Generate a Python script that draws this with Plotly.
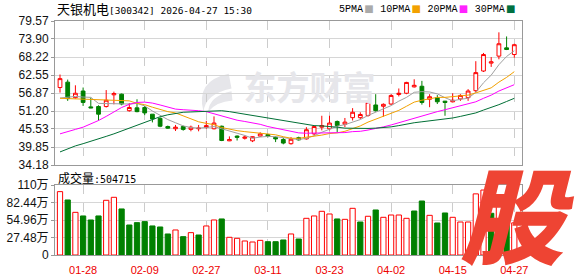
import plotly.graph_objects as go

# ---------------- data ----------------
dates = ["01-23","01-26","01-27","01-28","01-29","01-30","02-02","02-03","02-04","02-05",
         "02-06","02-09","02-10","02-11","02-12","02-13","02-24","02-25","02-26","02-27",
         "03-02","03-03","03-04","03-05","03-06","03-09","03-10","03-11","03-12","03-13",
         "03-16","03-17","03-18","03-19","03-20","03-23","03-24","03-25","03-26","03-27",
         "03-30","03-31","04-01","04-02","04-03","04-07","04-08","04-09","04-10","04-13",
         "04-14","04-15","04-16","04-17","04-20","04-21","04-22","04-23","04-24","04-27"]

opens = [58.6,60.3,55.4,57.5,52.5,52.6,52.6,56.3,56.5,51.3,
         52.2,52.3,50.2,48.9,46.3,45.6,46.3,45.4,45.6,46.0,
         45.6,46.4,41.8,43.3,42.6,41.8,43.3,43.8,42.9,42.2,
         40.9,42.8,42.4,44.0,46.1,45.6,47.9,47.0,49.1,49.1,
         49.8,53.1,52.7,53.4,56.4,56.8,58.8,59.0,54.9,55.4,
         54.3,54.1,55.0,55.4,57.6,63.8,66.3,68.5,71.1,69.0]
highs = [62.7,61.1,59.3,58.6,55.4,53.0,57.8,57.3,56.7,53.7,
         54.9,52.8,50.2,49.2,46.6,46.8,46.6,46.6,46.8,48.1,
         49.5,46.6,43.2,43.5,43.5,43.2,44.5,44.0,43.2,42.7,
         43.0,43.1,46.1,46.6,49.7,49.7,48.2,49.0,52.1,50.8,
         54.6,56.5,53.6,56.5,58.3,60.4,61.2,60.7,56.5,56.2,
         54.4,56.8,56.5,58.1,66.9,69.5,68.2,76.0,74.7,72.4]
lows = [57.0,54.4,55.1,52.8,52.1,48.2,52.3,53.3,53.0,51.0,
        50.8,49.9,47.6,46.1,45.6,44.9,45.0,44.8,44.8,45.6,
        45.4,41.7,41.7,41.9,42.2,41.4,43.1,42.9,41.4,40.7,
        40.6,41.9,42.2,43.5,45.1,45.1,44.5,46.1,48.2,48.7,
        49.4,51.0,49.4,53.1,55.8,56.5,58.6,53.2,52.4,53.4,
        49.7,53.9,54.4,54.4,57.2,63.5,65.1,67.5,70.4,68.0]
closes = [61.4,55.1,56.8,53.9,52.2,50.2,54.6,56.7,53.4,52.3,
          51.0,50.6,48.7,46.4,45.8,46.1,45.4,46.1,45.8,46.6,
          47.4,41.9,42.2,42.9,43.0,43.1,44.0,43.2,42.4,41.1,
          42.3,42.1,45.3,46.3,46.6,47.4,46.6,47.7,50.8,50.1,
          53.9,51.3,53.3,56.1,56.8,60.2,59.3,53.9,55.7,54.1,
          53.9,54.6,56.1,57.5,63.3,69.0,66.7,72.4,70.6,72.1]

volumes = [995000,864000,670000,613000,550000,613000,859000,906000,723000,471000,
           508000,524000,456000,440000,330000,393000,288000,351000,314000,456000,
           550000,566000,278000,262000,220000,204000,230000,209000,209000,236000,
           330000,251000,576000,613000,686000,644000,566000,560000,733000,518000,
           608000,707000,592000,628000,628000,576000,691000,848000,623000,503000,
           660000,592000,518000,518000,960000,1020000,655000,920000,613000,504715]

ma5 = [55.3,55.5,55.8,55.6,55.5,53.6,53.5,53.5,53.4,53.4,
       53.6,52.8,51.2,49.8,48.5,47.5,46.5,46.0,45.8,46.0,
       46.3,45.6,44.8,44.2,43.5,42.6,43.0,43.2,43.1,42.8,
       42.6,42.2,42.6,43.4,44.5,45.5,46.4,46.9,47.8,48.5,
       49.8,50.8,51.9,52.9,54.3,55.5,57.1,57.3,57.2,56.6,
       55.4,54.4,54.9,55.2,57.1,60.1,62.5,65.8,68.4,70.2]
ma10 = [55.2,55.1,55.0,54.9,54.8,54.7,54.6,54.5,54.4,54.4,
        53.6,53.2,52.4,51.6,51.0,50.6,49.6,48.6,47.8,47.3,
        46.9,46.0,45.4,45.0,44.7,44.4,44.3,44.0,43.7,43.1,
        42.6,42.6,42.9,43.3,43.6,44.1,44.3,44.8,45.6,46.5,
        47.7,48.6,49.4,50.4,51.4,52.7,54.0,54.6,55.1,55.5,
        55.5,55.8,56.1,56.2,56.9,57.7,58.5,60.3,61.8,63.6]
ma20 = [44.0,44.6,45.4,46.1,47.1,48.2,49.5,50.8,52.3,53.3,
        53.9,54.0,53.7,53.1,52.4,51.8,51.6,51.5,51.3,51.0,
        50.3,49.6,48.9,48.3,47.9,47.5,47.0,46.3,45.8,45.2,
        44.8,44.3,44.2,44.2,44.2,44.3,44.3,44.4,44.7,44.8,
        45.2,45.6,46.2,46.8,47.5,48.4,49.1,49.7,50.3,51.0,
        51.6,52.2,52.7,53.3,54.1,55.2,56.2,57.5,58.4,59.5]
ma30 = [38.3,39.3,40.2,40.9,41.6,42.4,43.2,44.0,44.9,45.8,
        46.7,47.6,48.6,49.4,50.0,50.5,50.8,50.9,51.0,51.2,
        51.3,51.3,51.0,50.6,50.2,49.9,49.5,49.1,48.7,48.3,
        47.7,47.3,46.9,46.6,46.5,46.4,46.1,45.8,45.7,45.6,
        45.7,45.8,45.9,46.2,46.6,47.1,47.5,47.8,48.1,48.4,
        48.6,49.0,49.5,50.0,50.6,51.5,52.3,53.2,54.2,55.2]

tick_dates = ["01-28","02-09","02-27","03-11","03-23","04-02","04-15","04-27"]
price_ticks = ["34.18","39.85","45.53","51.20","56.87","62.55","68.22","73.90","79.57"]
vol_tick_vals = [0, 274800, 549600, 824400, 1099200]
vol_tick_text = ["0", "27.48万", "54.96万", "82.44万", "110万"]

stock_title = "天银机电"
stock_code = "[300342] 2026-04-27 15:30"
ma_names = ["5PMA", "10PMA", "20PMA", "30PMA"]

# ---------------- styles ----------------
RED = "#ff0000"
GREEN = "#008000"
ma_colors = ["#a0a0a0", "#f2a100", "#ff00ff", "#006f35"]
legend_colors = ["#aaaaaa", "#f2a100", "#ff22ff", "#007040"]

idx = list(range(len(dates)))
tick_idx = [dates.index(d) for d in tick_dates]

up = [True] + [closes[i] >= closes[i - 1] for i in range(1, len(closes))]
vol_fill = ["#ffffff" if u else GREEN for u in up]
vol_line = [RED if u else GREEN for u in up]

W, H = 578, 276
L, R, T, B = 55, 56, 21, 21
ph = H - T - B
price_dom = [1 - 144 / ph, 1]
vol_dom = [0, 1 - 164 / ph]

fig = go.Figure()

# watermark (behind everything)
fig.add_trace(go.Scatter(
    x=[32.4], y=[57.3], mode="text", text=["东方财富"],
    textfont=dict(family="Noto Sans CJK SC", size=33, color="#e6e6ea", weight="bold"),
    hoverinfo="skip", xaxis="x", yaxis="y"))

fig.add_trace(go.Candlestick(
    x=idx, open=opens, high=highs, low=lows, close=closes,
    increasing=dict(line=dict(color=RED, width=1), fillcolor="#ffffff"),
    decreasing=dict(line=dict(color=GREEN, width=1), fillcolor=GREEN),
    whiskerwidth=0, hoverinfo="skip", xaxis="x", yaxis="y"))

for name, vals, col in zip(ma_names, [ma5, ma10, ma20, ma30], ma_colors):
    fig.add_trace(go.Scatter(x=idx, y=vals, mode="lines", name=name,
                             line=dict(color=col, width=1), hoverinfo="skip",
                             xaxis="x", yaxis="y"))

fig.add_trace(go.Bar(
    x=idx, y=volumes, width=0.68,
    marker=dict(color=vol_fill, line=dict(color=vol_line, width=1)),
    hoverinfo="skip", xaxis="x2", yaxis="y2"))

axis_common = dict(showline=True, linecolor="#999999", linewidth=1, mirror=True,
                   zeroline=False, automargin=False)

fig.update_layout(
    width=W, height=H, margin=dict(l=L, r=R, t=T, b=B, autoexpand=False),
    paper_bgcolor="#ffffff", plot_bgcolor="#ffffff",
    showlegend=False, bargap=0.3,
    xaxis=dict(domain=[0, 1], range=[-0.65, 60.0], anchor="y",
               tickvals=tick_idx, showticklabels=False, ticks="",
               showgrid=True, gridcolor="#cccccc", griddash="dash", gridwidth=1,
               rangeslider=dict(visible=False), **axis_common),
    yaxis=dict(domain=price_dom, range=[34.18, 79.57], anchor="x",
               tickvals=[float(t) for t in price_ticks], ticktext=price_ticks,
               ticks="outside", ticklen=3, tickcolor="#999999",
               tickfont=dict(family="Liberation Sans", size=12, color="#111111"),
               showgrid=True, gridcolor="#d6d6d6", gridwidth=1, **axis_common),
    xaxis2=dict(domain=[0, 1], range=[-0.65, 60.0], anchor="y2", matches="x",
                tickvals=tick_idx, ticktext=tick_dates,
                ticks="outside", ticklen=5, tickcolor="rgba(0,0,0,0)",
                tickfont=dict(family="Liberation Sans", size=11, color="#ee0000"),
                showgrid=True, gridcolor="#cccccc", griddash="dash", gridwidth=1,
                **axis_common),
    yaxis2=dict(domain=vol_dom, range=[0, 1099200], anchor="x2",
                tickvals=vol_tick_vals, ticktext=vol_tick_text,
                ticks="outside", ticklen=3, tickcolor="#999999",
                tickfont=dict(family="Liberation Sans, Noto Sans CJK SC", size=12, color="#111111"),
                showgrid=True, gridcolor="#d6d6d6", gridwidth=1, **axis_common),
)

# leaf of the watermark logo (decoration)
fig.add_shape(type="path", xref="paper", yref="paper", layer="below",
              path="M 0.372,0.775 Q 0.300,0.745 0.318,0.612 Q 0.322,0.690 0.378,0.712 Z",
              fillcolor="#e6e6ea", line=dict(width=0))
fig.add_shape(type="path", xref="paper", yref="paper", layer="below",
              path="M 0.378,0.700 Q 0.330,0.680 0.328,0.612 Q 0.345,0.655 0.380,0.660 Z",
              fillcolor="#e6e6ea", line=dict(width=0))

def px_x(p):
    return (p - L) / (W - L - R)

def px_y(p):
    return (H - B - p) / ph

title_html = ('<span style="font-family:Noto Sans CJK SC;font-size:13px">' + stock_title +
              '</span><span style="font-family:DejaVu Sans Mono;font-size:9.5px">' + stock_code + '</span>')
fig.add_annotation(xref="paper", yref="paper", x=px_x(55), y=px_y(9), xanchor="left", yanchor="middle",
                   text=title_html, showarrow=False, font=dict(color="#000000", size=12))

leg_parts = []
for n, c in zip(ma_names, legend_colors):
    leg_parts.append(n + '<span style="font-size:2px"> </span><span style="color:' + c +
                     ';font-size:10px;font-family:DejaVu Sans">■</span>')
leg_html = '<span style="font-size:11px"> </span>'.join(leg_parts)
fig.add_annotation(xref="paper", yref="paper", x=px_x(337), y=px_y(9), xanchor="left", yanchor="middle",
                   text=leg_html, showarrow=False,
                   font=dict(family="Liberation Mono", size=10, color="#000000"))

vol_html = ('<span style="font-family:Noto Sans CJK SC;font-size:12px">成交量</span>'
            '<span style="font-family:DejaVu Sans Mono;font-size:10px">:' + str(volumes[-1]) + '</span>')
fig.add_annotation(xref="paper", yref="paper", x=px_x(56), y=px_y(177), xanchor="left", yanchor="middle",
                   text=vol_html, showarrow=False, font=dict(color="#000000", size=12))

# brand mark over the volume panel
fig.add_annotation(xref="paper", yref="paper", x=px_x(517), y=px_y(210), xanchor="center", yanchor="middle",
                   text="股", showarrow=False,
                   font=dict(family="Noto Sans CJK SC", size=104, color="#ee4433", weight=900, style="italic"))

fig.write_html("out.html", config={"displayModeBar": False})
